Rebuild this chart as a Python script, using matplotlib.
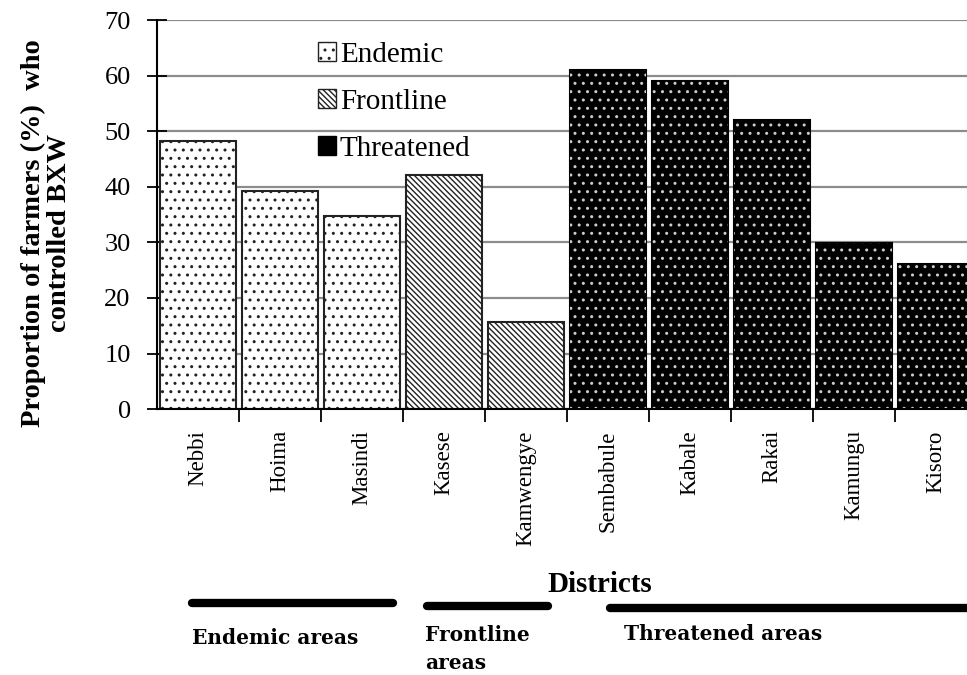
import matplotlib.pyplot as plt
import matplotlib.lines as mlines
from matplotlib.patches import Patch
import numpy as np

# Data
districts = ['Nebbi', 'Hoima', 'Masindi', 'Kasese', 'Kamwengye',
             'Sembabule', 'Kabale', 'Rakai', 'Kamungu', 'Kisoro']
controlled = [48.2, 39.2, 34.8, 42.1, 15.6, 61.1, 59.0, 52.0, 29.9, 26.1]
groups = ['Endemic', 'Endemic', 'Endemic', 'Frontline', 'Frontline',
          'Threatened', 'Threatened', 'Threatened', 'Threatened', 'Threatened']

plt.rcParams['font.family'] = 'Liberation Serif'
plt.rcParams['hatch.linewidth'] = 1.0

fig = plt.figure(figsize=(9.67, 6.75), dpi=100)
ax = fig.add_axes([0.1624, 0.394, 0.848, 0.576])

x = np.arange(len(districts))
w = 0.93
dots = '..'
stripes = '\\\\\\\\\\\\'

# Horizontal grid
ax.set_axisbelow(True)
ax.yaxis.grid(True, color='#8c8c8c', linewidth=1.6)

for xi, val, g in zip(x, controlled, groups):
    if g == 'Endemic':
        ax.bar(xi, val, w, facecolor='white', edgecolor='#222222', hatch=dots, linewidth=1.5)
    elif g == 'Frontline':
        ax.bar(xi, val, w, facecolor='white', edgecolor='#222222', hatch=stripes, linewidth=1.5)
    else:
        ax.bar(xi, val, w, facecolor='black', edgecolor='black', linewidth=1.5)
        ax.bar(xi, val, w, facecolor='none', edgecolor='#cccccc', hatch=dots, linewidth=0)

ax.set_xlim(-0.5, 9.5)
ax.set_ylim(0, 70)
ax.set_yticks(range(0, 71, 10))
ax.set_yticklabels([str(v) for v in range(0, 71, 10)], fontsize=19)

ax.set_xticks(x + 0.5)
ax.set_xticklabels([])
ax.tick_params(axis='x', length=9, width=1.3, direction='out')
ax.tick_params(axis='y', length=14, width=1.3, direction='inout', pad=12)
for xi, name in zip(x, districts):
    ax.text(xi, -3.8, name, rotation=90, ha='center', va='top', fontsize=16.5)

for s in ['top', 'right']:
    ax.spines[s].set_visible(False)
ax.spines['left'].set_linewidth(1.5)
ax.spines['bottom'].set_linewidth(1.5)

fig.text(46 / 967, 1 - 233 / 675, 'Proportion of farmers (%)  who\ncontrolled BXW',
         rotation=90, ha='center', va='center', multialignment='center',
         fontsize=20.5, fontweight='bold', linespacing=1.05)

handles = [Patch(facecolor='white', edgecolor='#222222', hatch=dots),
           Patch(facecolor='white', edgecolor='#222222', hatch=stripes),
           Patch(facecolor='black', edgecolor='black')]
ax.legend(handles, ['Endemic', 'Frontline', 'Threatened'], loc='upper left',
          bbox_to_anchor=(0.175, 0.99), frameon=False, fontsize=21,
          handlelength=0.6, handleheight=0.6, handletextpad=0.15, labelspacing=0.72,
          borderaxespad=0.2)

# Group annotations below the axis
fig.text(600 / 967, 1 - 585 / 675, 'Districts', ha='center', va='center',
         fontsize=21, fontweight='bold')
for x0, x1, y in [(192, 393, 603), (427, 548, 606), (610, 975, 608)]:
    fig.add_artist(mlines.Line2D([x0 / 967, x1 / 967], [1 - y / 675, 1 - y / 675],
                                 color='black', linewidth=6, solid_capstyle='round'))
fig.text(192 / 967, 1 - 638 / 675, 'Endemic areas', ha='left', va='center',
         fontsize=14.5, fontweight='bold', family='DejaVu Serif')
fig.text(425 / 967, 1 - 649 / 675, 'Frontline\nareas', ha='left', va='center',
         fontsize=14.5, fontweight='bold', family='DejaVu Serif', linespacing=1.5)
fig.text(624 / 967, 1 - 634 / 675, 'Threatened areas', ha='left', va='center',
         fontsize=14.5, fontweight='bold', family='DejaVu Serif')

fig.savefig('out.png', dpi=100)
